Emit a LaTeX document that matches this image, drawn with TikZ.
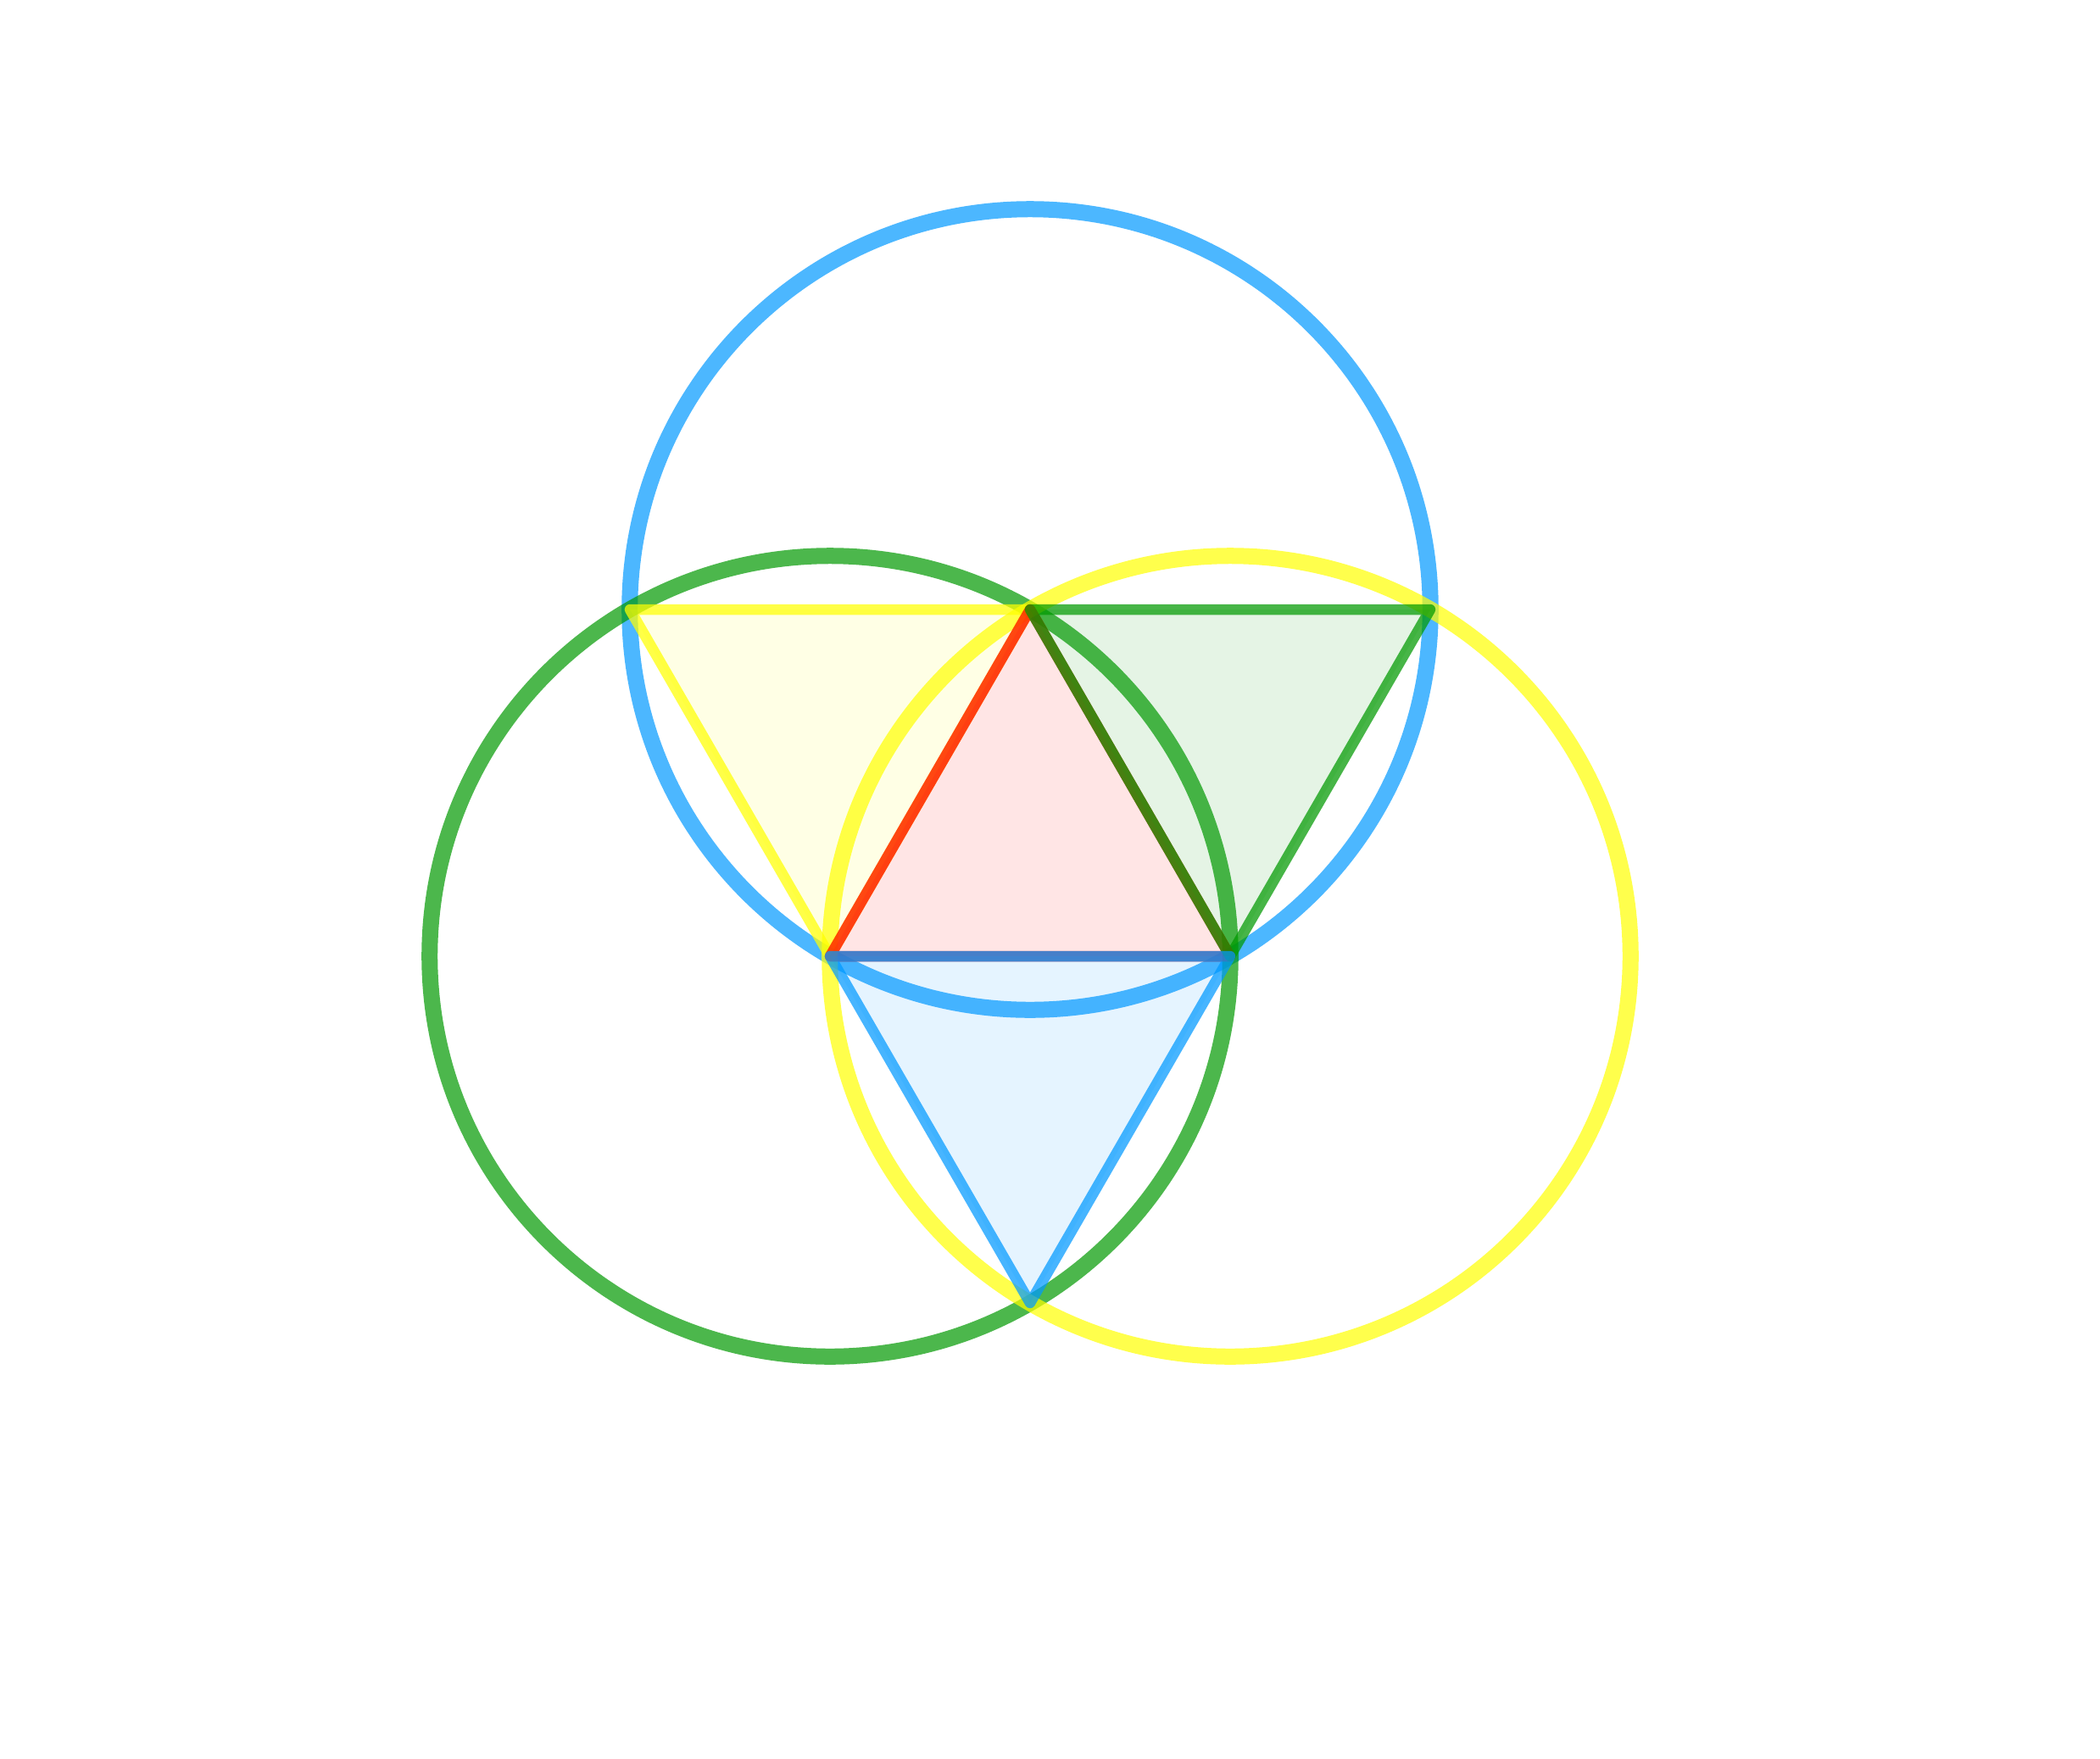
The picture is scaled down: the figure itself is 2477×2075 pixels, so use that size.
\documentclass[tikz,border=0pt]{standalone}
\begin{document}
\begin{tikzpicture}[x=0.01cm,y=-0.01cm,
  circ/.style={line width=0.19cm, draw opacity=0.7},
  tri/.style={line width=0.125cm, draw opacity=0.72, fill opacity=0.1, line join=round, line cap=round}]
\definecolor{cblue}{RGB}{0,153,255}
\definecolor{cgreen}{RGB}{0,153,0}
\definecolor{cyellow}{RGB}{255,255,0}
\definecolor{cred}{RGB}{255,0,0}
\fill[white] (0,0) rectangle (2477,2075);
\useasboundingbox (0,0) rectangle (2477,2075);
\coordinate (B) at (1215,719);
\coordinate (G) at (979,1128);
\coordinate (Y) at (1451,1128);
\coordinate (YL) at (743,719);
\coordinate (GR) at (1687,719);
\coordinate (BB) at (1215,1537);
% circles
\draw[circ, cblue] (B) circle[radius=4.72cm];
\draw[circ, cgreen] (G) circle[radius=4.72cm];
\draw[circ, cyellow] (Y) circle[radius=4.72cm];
% triangles
\filldraw[tri, draw=cyellow, fill=cyellow] (YL) -- (B) -- (G) -- cycle;
\filldraw[tri, draw=cred, fill=cred] (B) -- (G) -- (Y) -- cycle;
\filldraw[tri, draw=cgreen, fill=cgreen] (B) -- (GR) -- (Y) -- cycle;
\filldraw[tri, draw=cblue, fill=cblue] (G) -- (Y) -- (BB) -- cycle;
\end{tikzpicture}
\end{document}
